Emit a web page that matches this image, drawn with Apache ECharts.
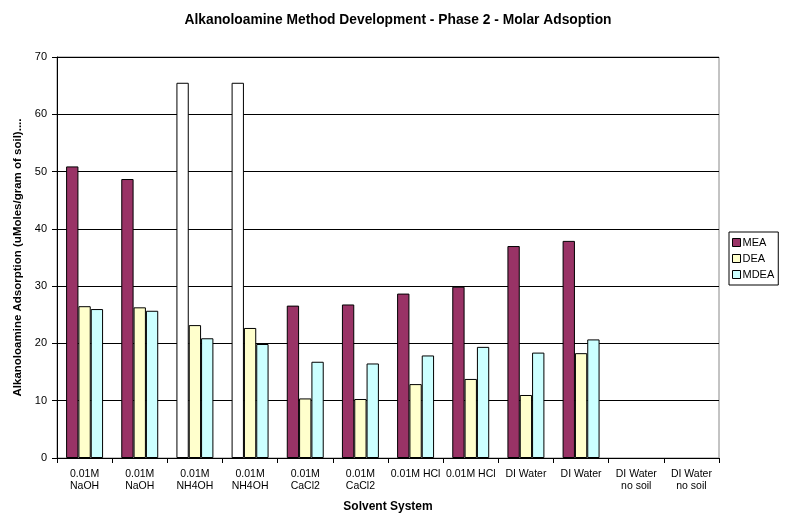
<!DOCTYPE html>
<html>
<head>
<meta charset="utf-8">
<script src="https://cdn.jsdelivr.net/npm/echarts@6/dist/echarts.min.js"></script>
<style>html,body{margin:0;padding:0;background:#fff}#c{width:788px;height:513px}</style>
</head>
<body>
<div id="c"></div>
<script>
var categories = ['0.01M\nNaOH','0.01M\nNaOH','0.01M\nNH4OH','0.01M\nNH4OH','0.01M\nCaCl2','0.01M\nCaCl2','0.01M HCl','0.01M HCl','DI Water','DI Water','DI Water\nno soil','DI Water\nno soil'];
var mea  = [50.9, 48.7, 65.5, 65.5, 26.6, 26.8, 28.7, 29.9, 37.0, 37.9, null, null];
var dea  = [26.5, 26.3, 23.2, 22.7, 10.4, 10.3, 12.9, 13.8, 11.0, 18.3, null, null];
var mdea = [26.0, 25.7, 20.9, 19.9, 16.8, 16.5, 17.9, 19.4, 18.4, 20.7, null, null];
var whiteMea = [2, 3];
var yTicks = [0, 10, 20, 30, 40, 50, 60, 70];

var FONT = 'Liberation Sans, Arial, sans-serif';
var chart = echarts.init(document.getElementById('c'), null, {renderer: 'canvas'});
var meaData = mea.map(function (v, i) {
  if (whiteMea.indexOf(i) >= 0) return {value: v, itemStyle: {color: '#ffffff'}};
  return v;
});
var barStyle = function (c) { return {color: c, borderColor: '#000', borderWidth: 1}; };
chart.setOption({
  animation: false,
  backgroundColor: '#fff',
  textStyle: {fontFamily: FONT},
  title: {
    text: 'Alkanoloamine Method Development - Phase 2 - Molar Adsoption',
    left: 393, textAlign: 'center', top: 8,
    textStyle: {fontFamily: FONT, fontSize: 13.8, fontWeight: 'bold', color: '#000'}
  },
  legend: {
    orient: 'vertical', left: 729, top: 232,
    itemWidth: 8, itemHeight: 8, itemGap: 5,
    padding: [5, 4, 5, 3],
    borderColor: '#000', borderWidth: 1,
    icon: 'rect',
    textStyle: {fontFamily: FONT, fontSize: 11, color: '#000', padding: [0, 0, 0, -3]},
    itemStyle: {borderColor: '#000', borderWidth: 1},
    data: ['MEA', 'DEA', 'MDEA']
  },
  grid: {left: 57, right: 69, top: 57, bottom: 55, show: true, borderColor: '#888', borderWidth: 1,
         containLabel: false, outerBoundsMode: 'none'},
  xAxis: {
    type: 'category', data: categories,
    name: 'Solvent System', nameLocation: 'middle', nameGap: 43,
    nameTextStyle: {fontFamily: FONT, fontSize: 12, fontWeight: 'bold', color: '#000'},
    axisLine: {lineStyle: {color: '#000', width: 1}},
    axisTick: {show: true, length: 5, inside: false, lineStyle: {color: '#000'}},
    axisLabel: {interval: 0, fontFamily: FONT, fontSize: 10.5, color: '#000', lineHeight: 12, margin: 10}
  },
  yAxis: {
    type: 'value', min: yTicks[0], max: yTicks[yTicks.length - 1], interval: 10,
    name: 'Alkanoloamine Adsorption (uMoles/gram of soil)....',
    nameLocation: 'middle', nameGap: 29,
    nameTextStyle: {fontFamily: FONT, fontSize: 11.5, fontWeight: 'bold', color: '#000'},
    axisLine: {show: true, lineStyle: {color: '#000', width: 1}},
    axisTick: {show: true, length: 5, lineStyle: {color: '#000'}},
    axisLabel: {fontFamily: FONT, fontSize: 11, color: '#000', margin: 10},
    splitLine: {show: true, lineStyle: {color: '#000', width: 1}}
  },
  series: [
    {name: 'MEA', type: 'bar', data: meaData, itemStyle: barStyle('#993366'), barGap: '0%', barCategoryGap: '33%'},
    {name: 'DEA', type: 'bar', data: dea, itemStyle: barStyle('#FFFFCC'), barGap: '0%', barCategoryGap: '33%'},
    {name: 'MDEA', type: 'bar', data: mdea, itemStyle: barStyle('#CCFFFF'), barGap: '0%', barCategoryGap: '33%'}
  ]
});
</script>
</body>
</html>
